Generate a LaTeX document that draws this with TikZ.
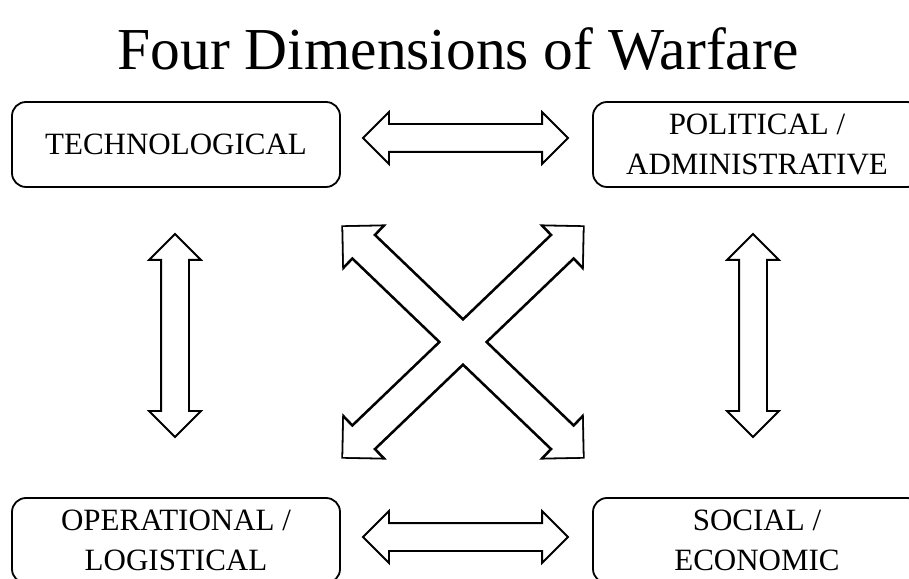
\documentclass[tikz,border=0pt]{standalone}
\usepackage{fontspec}
\setmainfont{Liberation Serif}
\usetikzlibrary{shapes.arrows}
\begin{document}
\begin{tikzpicture}[x=1pt,y=1pt,
  dimbox/.style={draw, line width=1.8pt, rounded corners=14pt, minimum width=328pt,
    minimum height=85pt, align=center, font=\fontsize{31}{40}\selectfont},
  dblarrow/.style={double arrow, draw, line width=1.8pt, fill=white, inner sep=13pt,
    double arrow head extend=12pt, minimum width=0pt}]
\clip (0,0) rectangle (909,578);
\node[font=\fontsize{59.5}{70}\selectfont, anchor=base] (title) at (458,508) {Four Dimensions of Warfare};
\node[dimbox] (tech) at (176,433.5) {TECHNOLOGICAL};
\node[dimbox] (pol) at (757,433.5) {POLITICAL /\\ADMINISTRATIVE};
\node[dimbox] (oper) at (176,37.5) {OPERATIONAL /\\LOGISTICAL};
\node[dimbox] (soc) at (757,37.5) {SOCIAL /\\ECONOMIC};
\node[dblarrow, minimum height=205pt] (tech-pol) at (465.5,440) {};
\node[dblarrow, minimum height=205pt] (oper-soc) at (465.5,41) {};
\node[dblarrow, minimum height=203pt, rotate=90] (tech-oper) at (175,242.5) {};
\node[dblarrow, minimum height=203pt, rotate=90] (pol-soc) at (753,242.5) {};
% cross: outlines first, then white fill on top so the middle stays open
\node[dblarrow, fill=none, line width=3.6pt, inner sep=14pt, minimum height=332pt, rotate=-43.8] (tech-soc-line) at (463,236) {};
\node[dblarrow, fill=none, line width=3.6pt, inner sep=14pt, minimum height=332pt, rotate=43.8] (oper-pol-line) at (463,236) {};
\node[dblarrow, draw=none, inner sep=14pt, minimum height=332pt, rotate=-43.8] (tech-soc) at (463,236) {};
\node[dblarrow, draw=none, inner sep=14pt, minimum height=332pt, rotate=43.8] (oper-pol) at (463,236) {};
\end{tikzpicture}
\end{document}
